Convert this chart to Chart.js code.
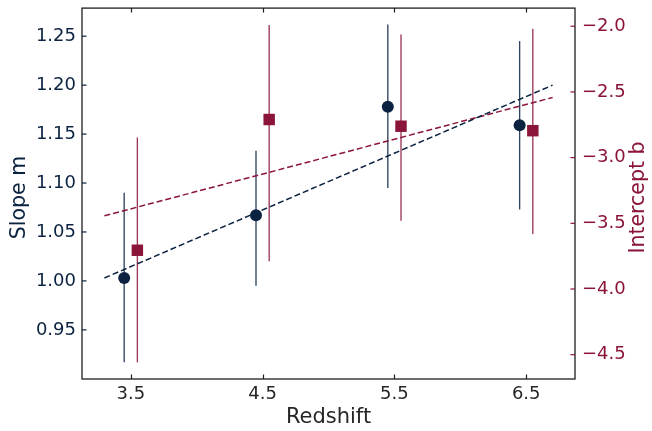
<!DOCTYPE html>
<html>
<head>
<meta charset="utf-8">
<script src="https://cdn.jsdelivr.net/npm/chart.js@4/dist/chart.umd.min.js"></script>
<style>
  html, body { margin: 0; padding: 0; background: #ffffff; }
  #wrap { width: 652px; height: 431px; }
</style>
</head>
<body>
<div id="wrap"><canvas id="c" width="652" height="431"></canvas></div>
<script>
// Slope m per redshift bin (circles, left axis) with lower/upper error limits
const redshiftSlope = [3.45, 4.45, 5.45, 6.45];
const slopeM = [1.003, 1.067, 1.178, 1.159];
const slopeLow = [0.917, 0.995, 1.095, 1.073];
const slopeHigh = [1.090, 1.133, 1.262, 1.245];

// Intercept b per redshift bin (squares, right axis) with lower/upper error limits
const redshiftIntercept = [3.55, 4.55, 5.55, 6.55];
const interceptB = [-3.705, -2.710, -2.761, -2.795];
const interceptLow = [-4.558, -3.788, -3.480, -3.581];
const interceptHigh = [-2.846, -1.990, -2.063, -2.020];

// Linear trends in redshift (dashed)
const fitRedshift = [3.3, 6.7];
const slopeFit = [1.003, 1.200];
const interceptFit = [-3.443, -2.542];

// Tick values
const redshiftTicks = [3.5, 4.5, 5.5, 6.5];
const slopeTicks = [0.95, 1.00, 1.05, 1.10, 1.15, 1.20, 1.25];
const interceptTicks = [-4.5, -4.0, -3.5, -3.0, -2.5, -2.0];

const NAVY = '#0b2341';
const CRIMSON = '#8a1538';
const INK = '#262626';
const FONT = '"DejaVu Sans", sans-serif';

const pts = (xs, ys) => xs.map((x, i) => ({ x: x, y: ys[i] }));
const minus = s => s.replace('-', '\u2212');

// Fixed axis band sizes so the plot box sits at a known place
const fitBand = (prop, size) => s => {
  s[prop] = size;
  s.paddingTop = 0; s.paddingBottom = 0; s.paddingLeft = 0; s.paddingRight = 0;
};

// Vertical error bars, drawn beneath the markers
const errorBars = {
  id: 'errorBars',
  beforeDatasetsDraw(chart) {
    const { ctx, chartArea, scales } = chart;
    const sx = scales.x;
    const groups = [
      { xs: redshiftSlope, lo: slopeLow, hi: slopeHigh, axis: scales.y, color: 'rgba(11,35,65,0.85)' },
      { xs: redshiftIntercept, lo: interceptLow, hi: interceptHigh, axis: scales.y2, color: 'rgba(138,21,56,0.85)' }
    ];
    ctx.save();
    ctx.beginPath();
    ctx.rect(chartArea.left, chartArea.top, chartArea.right - chartArea.left, chartArea.bottom - chartArea.top);
    ctx.clip();
    ctx.lineWidth = 1.35;
    groups.forEach(g => {
      ctx.strokeStyle = g.color;
      g.xs.forEach((x, i) => {
        const px = sx.getPixelForValue(x);
        ctx.beginPath();
        ctx.moveTo(px, g.axis.getPixelForValue(g.lo[i]));
        ctx.lineTo(px, g.axis.getPixelForValue(g.hi[i]));
        ctx.stroke();
      });
    });
    ctx.restore();
  }
};

// Box frame with inward tick marks, and the two vertical axis titles
const frame = {
  id: 'frame',
  afterDraw(chart) {
    const { ctx, chartArea: a, scales } = chart;
    const L = 4.5;
    ctx.save();
    ctx.lineWidth = 1.3;
    ctx.strokeStyle = '#1e1e1e';
    ctx.strokeRect(a.left, a.top, a.right - a.left, a.bottom - a.top);

    ctx.lineWidth = 1.2;
    redshiftTicks.forEach(v => {
      const px = Math.round(scales.x.getPixelForValue(v)) + 0.5;
      ctx.beginPath();
      ctx.moveTo(px, a.bottom); ctx.lineTo(px, a.bottom - L);
      ctx.moveTo(px, a.top); ctx.lineTo(px, a.top + L);
      ctx.stroke();
    });
    ctx.strokeStyle = NAVY;
    slopeTicks.forEach(v => {
      const py = scales.y.getPixelForValue(v);
      ctx.beginPath();
      ctx.moveTo(a.left, py); ctx.lineTo(a.left + L, py);
      ctx.stroke();
    });
    ctx.strokeStyle = CRIMSON;
    interceptTicks.forEach(v => {
      const py = scales.y2.getPixelForValue(v);
      ctx.beginPath();
      ctx.moveTo(a.right, py); ctx.lineTo(a.right - L, py);
      ctx.stroke();
    });

    const midY = (a.top + a.bottom) / 2 + 4;
    const vTitle = (text, x, color) => {
      ctx.save();
      ctx.translate(x, midY);
      ctx.rotate(-Math.PI / 2);
      ctx.fillStyle = color;
      ctx.font = '20.5px ' + FONT;
      ctx.textAlign = 'center';
      ctx.textBaseline = 'middle';
      ctx.fillText(text, 0, 0);
      ctx.restore();
    };
    vTitle('Slope m', 20, NAVY);
    vTitle('Intercept b', 639, CRIMSON);
    ctx.restore();
  }
};

new Chart(document.getElementById('c'), {
  type: 'scatter',
  data: {
    datasets: [
      {
        label: 'Slope m',
        data: pts(redshiftSlope, slopeM),
        yAxisID: 'y',
        pointStyle: 'circle',
        pointRadius: 6,
        pointHoverRadius: 6,
        backgroundColor: NAVY,
        borderColor: NAVY,
        borderWidth: 0
      },
      {
        label: 'Intercept b',
        data: pts(redshiftIntercept, interceptB),
        yAxisID: 'y2',
        pointStyle: 'rect',
        pointRadius: 8.1,
        pointHoverRadius: 8.1,
        backgroundColor: CRIMSON,
        borderColor: CRIMSON,
        borderWidth: 0
      },
      {
        type: 'line',
        label: 'Slope trend',
        data: pts(fitRedshift, slopeFit),
        yAxisID: 'y',
        borderColor: NAVY,
        borderWidth: 1.5,
        borderDash: [6, 3],
        pointRadius: 0,
        fill: false
      },
      {
        type: 'line',
        label: 'Intercept trend',
        data: pts(fitRedshift, interceptFit),
        yAxisID: 'y2',
        borderColor: CRIMSON,
        borderWidth: 1.5,
        borderDash: [6, 3],
        pointRadius: 0,
        fill: false
      }
    ]
  },
  options: {
    responsive: false,
    devicePixelRatio: 1,
    animation: false,
    layout: { padding: { top: 6, right: 0, bottom: 0, left: 0 } },
    plugins: { legend: { display: false }, tooltip: { enabled: false } },
    scales: {
      x: {
        type: 'linear',
        position: 'bottom',
        min: 3.13,
        max: 6.87,
        grid: { display: false, drawTicks: false },
        border: { display: false },
        afterBuildTicks: s => { s.ticks = redshiftTicks.map(v => ({ value: v })); },
        afterFit: fitBand('height', 52),
        ticks: {
          color: INK,
          font: { family: FONT, size: 18 },
          padding: 5,
          maxRotation: 0,
          callback: v => v.toFixed(1)
        },
        title: {
          display: true,
          text: 'Redshift',
          color: INK,
          font: { family: FONT, size: 21 },
          padding: { top: 0, bottom: 1 }
        }
      },
      y: {
        type: 'linear',
        position: 'left',
        min: 0.8998,
        max: 1.2787,
        grid: { display: false, drawTicks: false },
        border: { display: false },
        afterBuildTicks: s => { s.ticks = slopeTicks.map(v => ({ value: v })); },
        afterFit: fitBand('width', 82),
        ticks: {
          color: NAVY,
          font: { family: FONT, size: 18 },
          padding: 6,
          callback: v => v.toFixed(2)
        }
      },
      y2: {
        type: 'linear',
        position: 'right',
        min: -4.685,
        max: -1.862,
        grid: { display: false, drawTicks: false },
        border: { display: false },
        afterBuildTicks: s => { s.ticks = interceptTicks.map(v => ({ value: v })); },
        afterFit: fitBand('width', 77),
        ticks: {
          color: CRIMSON,
          font: { family: FONT, size: 18 },
          padding: 7,
          callback: v => minus(v.toFixed(1))
        }
      }
    }
  },
  plugins: [errorBars, frame]
});
</script>
</body>
</html>
